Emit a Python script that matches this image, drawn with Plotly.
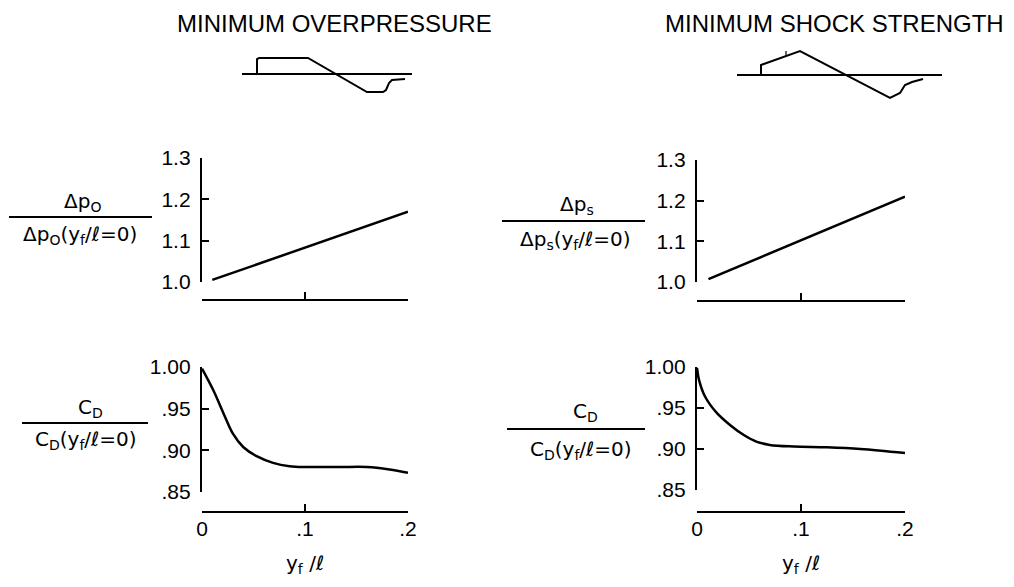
import plotly.graph_objects as go

# ---------------- data ----------------
x_top_op = [0.01, 0.2]
y_top_op = [1.005, 1.17]

x_top_ss = [0.011, 0.2]
y_top_ss = [1.007, 1.21]

x_cd_op = [0.0, 0.011, 0.021, 0.030, 0.040, 0.053, 0.069, 0.085, 0.102, 0.134, 0.160, 0.182, 0.200]
y_cd_op = [0.998, 0.972, 0.944, 0.920, 0.904, 0.893, 0.885, 0.881, 0.880, 0.880, 0.880, 0.877, 0.873]

x_cd_ss = [0.0, 0.002, 0.0077, 0.019, 0.032, 0.045, 0.057, 0.070, 0.093, 0.125, 0.157, 0.200]
y_cd_ss = [0.999, 0.984, 0.964, 0.944, 0.929, 0.917, 0.909, 0.905, 0.903, 0.902, 0.900, 0.895]

top_tickvals = [1.0, 1.1, 1.2, 1.3]
top_ticktext = ["1.0", "1.1", "1.2", "1.3"]
bot_tickvals = [0.85, 0.90, 0.95, 1.00]
bot_ticktext = [".85", ".90", ".95", "1.00"]
x_tickvals = [0.0, 0.1, 0.2]
x_ticktext = ["0", ".1", ".2"]

# pressure-signature sketches (schematic units)
sk_op_t = [15, 15, 17, 66, 125, 141, 144, 147, 150, 163]
sk_op_p = [0, 15, 16, 16, -18, -18, -16, -9, -6, -5]
sk_ss_t = [24, 24, 63, 153, 163, 168, 175, 186]
sk_ss_p = [0, 10, 24, -23, -18, -10, -7, -4]
sk_ss_mark_t = [49, 49]
sk_ss_mark_p = [19, 24]
sk_base_op = [0, 170]
sk_base_ss = [0, 205]

# the page body has an 8 px margin: make the figure fit the window exactly
OFF = 8
W, H = 1014 - 2 * OFF, 587 - 2 * OFF
def px(x):
    return (x - OFF) / W
def py(y):
    return 1 - (y - OFF) / H

fig = go.Figure()
LINE = dict(color="black", width=2.5)
CURVE = dict(color="black", width=2.5, shape="spline")

fig.add_trace(go.Scatter(x=x_top_op, y=y_top_op, mode="lines", line=LINE, xaxis="x", yaxis="y"))
fig.add_trace(go.Scatter(x=x_top_ss, y=y_top_ss, mode="lines", line=LINE, xaxis="x2", yaxis="y2"))
fig.add_trace(go.Scatter(x=x_cd_op, y=y_cd_op, mode="lines", line=CURVE, xaxis="x3", yaxis="y3"))
fig.add_trace(go.Scatter(x=x_cd_ss, y=y_cd_ss, mode="lines", line=CURVE, xaxis="x4", yaxis="y4"))

# sketches
SK = dict(color="black", width=2)
fig.add_trace(go.Scatter(x=sk_base_op, y=[0, 0], mode="lines", line=SK, xaxis="x5", yaxis="y5"))
fig.add_trace(go.Scatter(x=sk_op_t, y=sk_op_p, mode="lines", line=SK, xaxis="x5", yaxis="y5"))
fig.add_trace(go.Scatter(x=sk_base_ss, y=[0, 0], mode="lines", line=SK, xaxis="x6", yaxis="y6"))
fig.add_trace(go.Scatter(x=sk_ss_t, y=sk_ss_p, mode="lines", line=SK, xaxis="x6", yaxis="y6"))
fig.add_trace(go.Scatter(x=sk_ss_mark_t, y=sk_ss_mark_p, mode="lines", line=dict(color="black", width=1.2),
                         xaxis="x6", yaxis="y6"))

TICKFONT = dict(family="Liberation Sans", size=21, color="black")

def yax(dom, rng, vals, text):
    return dict(domain=dom, range=rng, tickvals=vals, ticktext=text, ticks="inside", ticklen=7,
                tickwidth=2.4, tickcolor="black", showline=True, linecolor="black", linewidth=2.4,
                showgrid=False, zeroline=False, tickfont=TICKFONT, ticklabelstandoff=5, fixedrange=True)

def xax(dom, pos, labels):
    return dict(domain=dom, range=[0, 0.2], anchor="free", position=pos, tickvals=x_tickvals,
                ticktext=x_ticktext, ticks="inside", ticklen=7, tickwidth=2.4, tickcolor="black",
                showline=True, linecolor="black", linewidth=2.4, showgrid=False, zeroline=False,
                showticklabels=labels, tickfont=TICKFONT, ticklabelstandoff=-2, fixedrange=True)

L_DOM = [px(202), px(408)]
R_DOM = [px(697), px(905)]

hidden = dict(visible=False, showgrid=False, zeroline=False, fixedrange=True)

fig.update_layout(
    width=W, height=H, margin=dict(l=0, r=0, t=0, b=0, pad=0, autoexpand=False),
    paper_bgcolor="white", plot_bgcolor="white", showlegend=False,
    xaxis=xax(L_DOM, py(300), False),
    yaxis=dict(yax([py(282), py(158)], [1.0, 1.3], top_tickvals, top_ticktext), anchor="x"),
    xaxis2=xax(R_DOM, py(301), False),
    yaxis2=dict(yax([py(282), py(160)], [1.0, 1.3], top_tickvals, top_ticktext), anchor="x2"),
    xaxis3=xax(L_DOM, py(512), True),
    yaxis3=dict(yax([py(492), py(367)], [0.85, 1.0], bot_tickvals, bot_ticktext), anchor="x3"),
    xaxis4=xax(R_DOM, py(512), True),
    yaxis4=dict(yax([py(490), py(367)], [0.85, 1.0], bot_tickvals, bot_ticktext), anchor="x4"),
    xaxis5=dict(hidden, domain=[px(242), px(412)], range=[0, 170], anchor="y5"),
    yaxis5=dict(hidden, domain=[py(100), py(48)], range=[-26, 26], anchor="x5"),
    xaxis6=dict(hidden, domain=[px(737), px(942)], range=[0, 205], anchor="y6"),
    yaxis6=dict(hidden, domain=[py(103), py(47)], range=[-28, 28], anchor="x6"),
)

TITLEFONT = dict(family="Liberation Sans", size=24, color="black")
LABFONT = dict(family="DejaVu Sans", size=20, color="black")

def ann(text, x, y, font, xanchor="center", yanchor="middle"):
    fig.add_annotation(text=text, x=px(x), y=py(y), xref="paper", yref="paper",
                       xanchor=xanchor, yanchor=yanchor, showarrow=False, font=font)

ann("MINIMUM OVERPRESSURE", 175, OFF, TITLEFONT, "left", "top")
ann("MINIMUM SHOCK STRENGTH", 1014 - OFF, OFF, TITLEFONT, "right", "top")

# fraction labels
ann("Δp<sub>O</sub>", 82, 202, LABFONT)
ann("Δp<sub>O</sub>(y<sub>f</sub>/ℓ=0)", 80, 235, LABFONT)
ann("Δp<sub>s</sub>", 577, 205, LABFONT)
ann("Δp<sub>s</sub>(y<sub>f</sub>/ℓ=0)", 575, 240, LABFONT)
ann("C<sub>D</sub>", 90, 408, LABFONT)
ann("C<sub>D</sub>(y<sub>f</sub>/ℓ=0)", 86, 440, LABFONT)
ann("C<sub>D</sub>", 585, 412, LABFONT)
ann("C<sub>D</sub>(y<sub>f</sub>/ℓ=0)", 581, 450, LABFONT)

for x0, x1, y in [(9, 152, 217), (502, 645, 221), (22, 148, 423), (507, 645, 429)]:
    fig.add_shape(type="line", x0=px(x0), x1=px(x1), y0=py(y), y1=py(y), xref="paper", yref="paper",
                  line=dict(color="black", width=2.2))

# x-axis titles, kept inside the bottom edge of the figure
ann("y<sub>f</sub> /ℓ", 305, 587 - OFF, LABFONT, "center", "bottom")
ann("y<sub>f</sub> /ℓ", 801, 587 - OFF, LABFONT, "center", "bottom")

fig.write_html("out.html")
